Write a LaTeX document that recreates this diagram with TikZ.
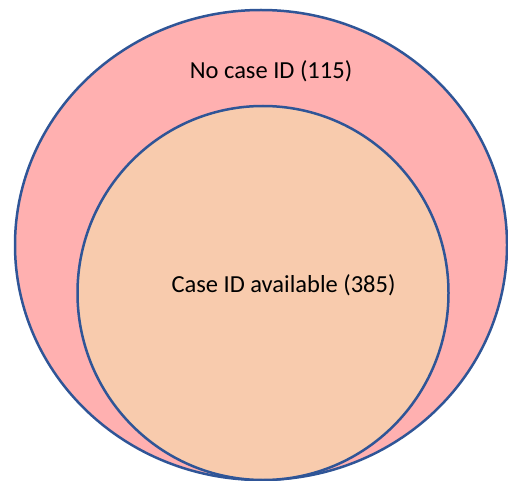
\documentclass[tikz,border=0pt]{standalone}
\usepackage{fontspec}
\setmainfont{Carlito}
\begin{document}
\begin{tikzpicture}[x=1pt,y=-1pt]
\definecolor{color1}{rgb}{1.0,0.69,0.69}
\definecolor{color2}{rgb}{0.973,0.796,0.678}
\definecolor{color3}{rgb}{0.184,0.333,0.592}
\useasboundingbox (0,0) rectangle (508,481);
\coordinate[] (O1) at (261,245);
\coordinate[] (I1) at (263,293);
\draw[line width=2.5pt,draw=color3,fill=color1] (O1) ellipse [x radius=246,y radius=235];
\draw[line width=2.5pt,draw=color3,fill=color2] (I1) ellipse [x radius=185.5,y radius=187];
\node[font=\fontsize{24.5}{29}\selectfont] (nocase) at (271,71) {No case ID (115)};
\node[font=\fontsize{24.5}{29}\selectfont] (caseid) at (283.5,285) {Case ID available (385)};

\end{tikzpicture}
\end{document}
